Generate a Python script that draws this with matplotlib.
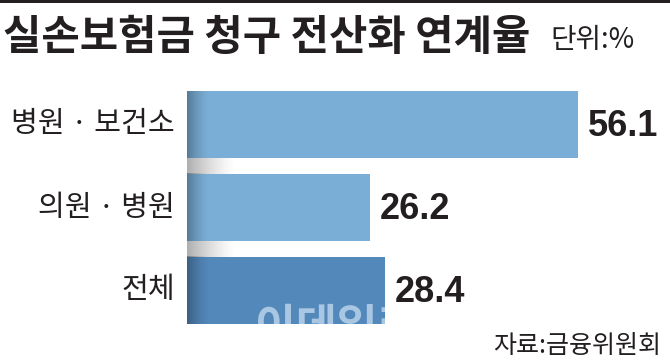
import numpy as np
import matplotlib
matplotlib.use('Agg')
import matplotlib.pyplot as plt
from matplotlib.patches import Rectangle

categories = ['병원 · 보건소', '의원 · 병원', '전체']
values = [56.1, 26.2, 28.4]
value_labels = ['56.1', '26.2', '28.4']
title = '실손보험금 청구 전산화 연계율'
unit = '단위:%'
source = '자료:금융위원회'
watermark = '이데일리'

W, H = 670, 362
fig = plt.figure(figsize=(6.7, 3.62), dpi=100, facecolor='white')
def fx(px): return px / W
def fy(py): return 1 - py / H

KR = ['Noto Sans CJK KR', 'DejaVu Sans']
NUM = ['Liberation Sans', 'DejaVu Sans']

# top black rule
fig.add_artist(Rectangle((0, fy(3)), 1, 3 / H, transform=fig.transFigure,
                         color='#231F20', lw=0))

ppu = 6.97  # pixels per unit
ax = fig.add_axes([fx(187), fy(324), fx(670 - 187), (324 - 91) / H])
ax.set_xlim(0, 483 / ppu)
ax.set_ylim(2.405, -0.405)
ax.axis('off')

colors = ['#7BAED6', '#7BAED6', '#5388BA']
hgt = 0.81
ys = np.arange(len(values))
bars = ax.barh(ys, values, height=hgt, color=colors, lw=0, zorder=2)

# dark shading at left edge of bars
grad = np.zeros((1, 64, 4))
grad[..., 3] = np.linspace(0.45, 0.0, 64) ** 1.5
for y in ys:
    ax.imshow(grad, extent=[0, 3.2, y + hgt / 2, y - hgt / 2], aspect='auto',
              zorder=3, interpolation='bilinear')

# grey shadow in gaps
ggrad = np.zeros((1, 64, 4))
ggrad[..., :3] = 0.5
ggrad[..., 3] = np.linspace(0.7, 0.0, 64) ** 1.3
for y in ys[:-1]:
    ax.imshow(ggrad, extent=[0, 6.8, y + 1 - hgt / 2, y + hgt / 2], aspect='auto',
              zorder=1, interpolation='bilinear')

# watermark clipped to the last bar (via an overlay axes covering that bar)
fig.canvas.draw()
bb = bars[2].get_window_extent()
wax = fig.add_axes(fig.transFigure.inverted().transform_bbox(bb))
wax.set_xlim(0, 1)
wax.set_ylim(0, 1)
wax.axis('off')
wax.patch.set_alpha(0)
wax.text((255 - bb.x0) / bb.width, (H - 305 - bb.y0) / bb.height, watermark,
         fontsize=32, weight='bold', color='#A9C7E2', va='top', ha='left',
         family=KR, clip_on=True, transform=wax.transAxes)

for y, v, lab in zip(ys, values, value_labels):
    ax.text(v + 10 / ppu, y + 0.02, lab, fontsize=26, weight='bold', family=NUM,
            va='center', ha='left', color='#231F20')

for y, c in zip(ys, categories):
    fig.text(fx(175), fy(124.5 + 83 * y), c, fontsize=21, family=KR,
             weight='light', ha='right', va='center', color='#231F20')

fig.text(fx(3), fy(38), title, fontsize=30, weight='bold', family=KR,
         ha='left', va='center', color='#231F20')
fig.text(fx(550), fy(40), unit, fontsize=20, family=KR, weight='light',
         ha='left', va='center', color='#231F20')
fig.text(fx(661), fy(346), source, fontsize=18, family=KR, weight='light',
         ha='right', va='center', color='#231F20')

fig.savefig('out.png', dpi=100, facecolor='white')
